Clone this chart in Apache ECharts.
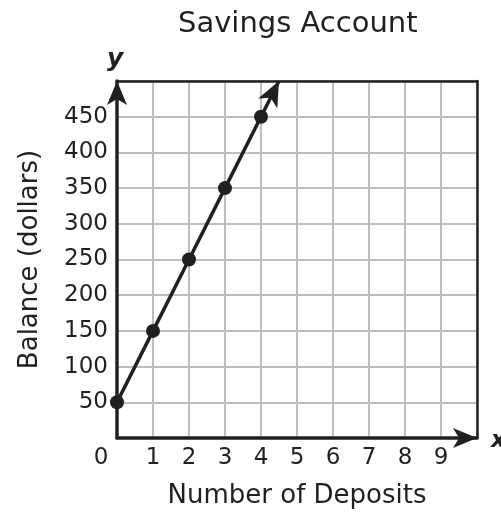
<!DOCTYPE html>
<html>
<head>
<meta charset="utf-8">
<script src="https://cdn.jsdelivr.net/npm/echarts@6/dist/echarts.min.js"></script>
<style>
  html, body { margin: 0; padding: 0; background: #fff; }
  #chart { width: 501px; height: 514px; }
</style>
</head>
<body>
<div id="chart"></div>
<script>
// deposits and balances
var deposits = [0, 1, 2, 3, 4];
var balances = [50, 150, 250, 350, 450];
// where the arrow of the line ends
var arrowEnd = [4.5, 500];
var xTicks = [0, 1, 2, 3, 4, 5, 6, 7, 8, 9];
var yTicks = [50, 100, 150, 200, 250, 300, 350, 400, 450];

var ink = '#231f20';
var font = 'DejaVu Sans';

var chart = echarts.init(document.getElementById('chart'));

var lineData = [];
for (var i = 0; i < deposits.length; i++) {
  lineData.push([deposits[i], balances[i]]);
}

// plain axis used for the dark top / right border
function borderAxis(pos, max) {
  return {
    type: 'value', position: pos, min: 0, max: max,
    axisLine: { show: true, onZero: false, lineStyle: { color: ink, width: 2.5 } },
    axisTick: { show: false }, axisLabel: { show: false }, splitLine: { show: false }
  };
}

var option = {
  animation: false,
  title: {
    text: 'Savings Account',
    left: 173,
    top: 5,
    textStyle: { fontFamily: font, fontSize: 29, fontWeight: 'normal', color: ink }
  },
  grid: { left: 117, top: 81, right: 24, bottom: 73 },
  xAxis: [{
    type: 'value', min: 0, max: 10, interval: 1,
    name: 'Number of Deposits',
    nameLocation: 'middle',
    nameGap: 45,
    nameTextStyle: { fontFamily: font, fontSize: 26, color: ink },
    axisLine: {
      show: true, symbol: ['none', 'arrow'], symbolSize: [15, 24],
      lineStyle: { color: ink, width: 3.5 }
    },
    axisTick: { show: false },
    splitLine: { show: true, lineStyle: { color: '#bcbec0', width: 2 } },
    axisLabel: {
      margin: 9,
      fontFamily: font, fontSize: 23, color: ink,
      formatter: function (v) {
        if (xTicks.indexOf(v) < 0) return '';
        if (v === 0) return '{z|0}';
        return String(v);
      },
      rich: { z: { fontFamily: font, fontSize: 23, color: ink, padding: [0, 32, 0, 0] } }
    }
  }, borderAxis('top', 10)],
  yAxis: [{
    type: 'value', min: 0, max: 500, interval: 50,
    name: 'Balance (dollars)',
    nameLocation: 'middle',
    nameGap: 74,
    nameTextStyle: { fontFamily: font, fontSize: 26, color: ink },
    axisLine: {
      show: true, symbol: ['none', 'arrow'], symbolSize: [15, 24],
      lineStyle: { color: ink, width: 3.5 }
    },
    axisTick: { show: false },
    splitLine: { show: true, lineStyle: { color: '#bcbec0', width: 2 } },
    axisLabel: {
      margin: 9,
      fontFamily: font, fontSize: 23, color: ink,
      formatter: function (v) {
        return yTicks.indexOf(v) < 0 ? '' : String(v);
      }
    }
  }, borderAxis('right', 500)],
  graphic: [
    {
      type: 'text', left: 107, top: 47,
      style: { text: 'y', font: 'italic bold 25px "DejaVu Sans"', fill: ink }
    },
    {
      type: 'text', left: 491, top: 430,
      style: { text: 'x', font: 'italic bold 23px "DejaVu Sans"', fill: ink }
    }
  ],
  series: [{
    type: 'line',
    data: lineData,
    symbol: 'circle',
    symbolSize: 14,
    clip: false,
    itemStyle: { color: ink },
    lineStyle: { color: ink, width: 3.5 },
    z: 5
  }, {
    // last stretch of the line, with its arrow head
    type: 'lines',
    coordinateSystem: 'cartesian2d',
    clip: false,
    symbol: ['none', 'arrow'],
    symbolSize: [[16, 25], [16, 25]],
    lineStyle: { color: ink, width: 3.5, opacity: 1 },
    z: 6,
    data: [{ coords: [[deposits[4], balances[4]], arrowEnd] }]
  }]
};

chart.setOption(option);
</script>
</body>
</html>
